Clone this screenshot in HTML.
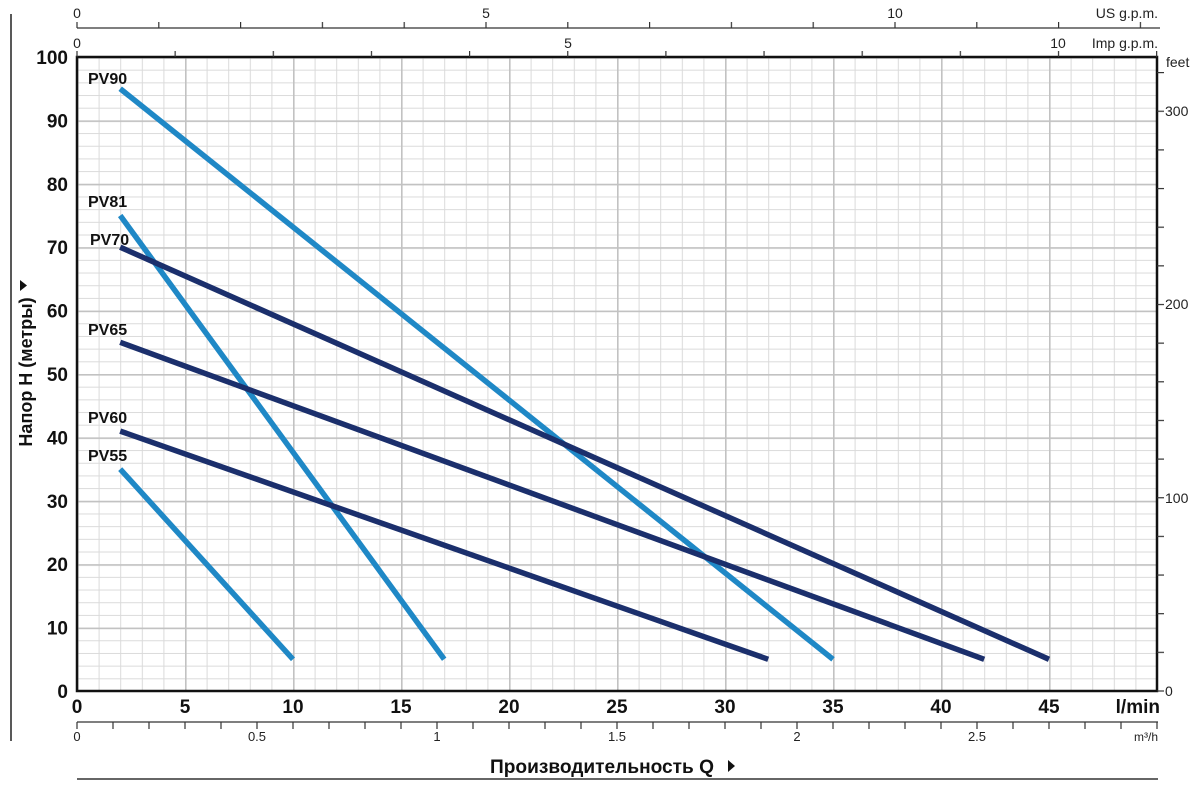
<!DOCTYPE html>
<html><head><meta charset="utf-8"><style>
html,body{margin:0;padding:0;background:#fff;}
svg{display:block;font-family:"Liberation Sans",sans-serif;}
</style></head><body>
<svg width="1200" height="789" viewBox="0 0 1200 789" xmlns="http://www.w3.org/2000/svg">
<defs>
<pattern id="gmin" patternUnits="userSpaceOnUse" x="77" y="57" width="21.6" height="12.68">
<line x1="0.5" y1="0" x2="0.5" y2="12.68" stroke="#dadada" stroke-width="1"/>
<line x1="0" y1="0.5" x2="21.6" y2="0.5" stroke="#dadada" stroke-width="1"/>
</pattern>
<pattern id="gmaj" patternUnits="userSpaceOnUse" x="77" y="57" width="108" height="63.4">
<line x1="0.8" y1="0" x2="0.8" y2="63.4" stroke="#c2c2c2" stroke-width="1.6"/>
<line x1="0" y1="0.8" x2="108" y2="0.8" stroke="#c2c2c2" stroke-width="1.6"/>
</pattern>
<pattern id="tus" patternUnits="userSpaceOnUse" x="76.4" y="0" width="81.8" height="10"><rect x="0" y="0" width="1.2" height="10" fill="#333"/></pattern>
<pattern id="timp" patternUnits="userSpaceOnUse" x="76.4" y="0" width="98.15" height="10"><rect x="0" y="0" width="1.2" height="10" fill="#333"/></pattern>
<pattern id="tm3" patternUnits="userSpaceOnUse" x="76.4" y="0" width="36" height="10"><rect x="0" y="0" width="1.2" height="10" fill="#333"/></pattern>
<pattern id="tft" patternUnits="userSpaceOnUse" x="0" y="690.4" width="10" height="38.65"><rect x="0" y="0" width="10" height="1.2" fill="#333"/></pattern>
</defs>
<rect width="1200" height="789" fill="#fff"/>
<rect x="77" y="57" width="1080" height="634" fill="url(#gmin)"/>
<rect x="77" y="57" width="1080" height="634" fill="url(#gmaj)"/>
<rect x="77" y="57" width="1080" height="634" fill="none" stroke="#111" stroke-width="2.5"/>

<g font-size="19" font-weight="bold" fill="#111" text-anchor="end">
<text x="68" y="698">0</text><text x="68" y="634.6">10</text><text x="68" y="571.2">20</text><text x="68" y="507.8">30</text><text x="68" y="444.4">40</text><text x="68" y="381">50</text><text x="68" y="317.6">60</text><text x="68" y="254.2">70</text><text x="68" y="190.8">80</text><text x="68" y="127.4">90</text><text x="68" y="64">100</text>
</g>
<g font-size="19" font-weight="bold" fill="#111" text-anchor="middle">
<text x="77" y="713">0</text><text x="185" y="713">5</text><text x="293" y="713">10</text><text x="401" y="713">15</text><text x="509" y="713">20</text><text x="617" y="713">25</text><text x="725" y="713">30</text><text x="833" y="713">35</text><text x="941" y="713">40</text><text x="1049" y="713">45</text>
</g>
<text x="1160" y="713" text-anchor="end" font-size="19" font-weight="bold" fill="#111">l/min</text>

<line x1="77" y1="28" x2="1160" y2="28" stroke="#333" stroke-width="1.2"/>
<rect x="76" y="22" width="1082" height="6" fill="url(#tus)"/>
<g font-size="14" fill="#222" text-anchor="middle"><text x="77" y="18">0</text><text x="486" y="18">5</text><text x="895" y="18">10</text>
<text x="77" y="48">0</text><text x="568" y="48">5</text><text x="1058" y="48">10</text></g>
<text x="1158" y="18" text-anchor="end" font-size="14" fill="#222">US g.p.m.</text>
<rect x="76" y="51" width="1084" height="6" fill="url(#timp)"/>
<text x="1158" y="48" text-anchor="end" font-size="14" fill="#222">Imp g.p.m.</text>

<rect x="1157" y="57" width="7" height="635" fill="url(#tft)"/>
<g font-size="14" fill="#222"><text x="1165" y="696">0</text><text x="1165" y="503">100</text><text x="1165" y="309">200</text><text x="1165" y="116">300</text><text x="1166" y="67">feet</text></g>

<line x1="77" y1="722" x2="1158" y2="722" stroke="#333" stroke-width="1.2"/>
<rect x="76" y="722" width="1083" height="7" fill="url(#tm3)"/>
<g font-size="13" fill="#222" text-anchor="middle"><text x="77" y="741">0</text><text x="257" y="741">0.5</text><text x="437" y="741">1</text><text x="617" y="741">1.5</text><text x="797" y="741">2</text><text x="977" y="741">2.5</text></g>
<text x="1158" y="741" text-anchor="end" font-size="12" fill="#222">m³/h</text>
<line x1="77" y1="779" x2="1158" y2="779" stroke="#333" stroke-width="1.5"/>
<text x="490" y="773" font-size="19" font-weight="bold" fill="#111" textLength="224" lengthAdjust="spacingAndGlyphs">Производительность Q</text>
<path d="M728 760 L728 772 L735 766 Z" fill="#111"/>
<line x1="11" y1="14" x2="11" y2="741" stroke="#222" stroke-width="1.5"/>
<text transform="translate(32,372) rotate(-90)" text-anchor="middle" font-size="18" font-weight="bold" fill="#111">Напор H (метры)</text>
<path d="M20 280 L20 291 L27 285.5 Z" fill="#111"/>

<g stroke-width="5.5" stroke-linecap="butt">
<line x1="120.2" y1="88.7" x2="833" y2="659.3" stroke="#1f88c6"/>
<line x1="120.2" y1="215.5" x2="444.2" y2="659.3" stroke="#1f88c6"/>
<line x1="120.2" y1="247.2" x2="1049" y2="659.3" stroke="#1b2f6c"/>
<line x1="120.2" y1="342.3" x2="984.2" y2="659.3" stroke="#1b2f6c"/>
<line x1="120.2" y1="431.1" x2="768.2" y2="659.3" stroke="#1b2f6c"/>
<line x1="120.2" y1="469.1" x2="293" y2="659.3" stroke="#1f88c6"/>
</g>
<g font-size="16" font-weight="bold" fill="#111">
<text x="88" y="84">PV90</text><text x="88" y="207">PV81</text><text x="90" y="245">PV70</text><text x="88" y="335">PV65</text><text x="88" y="423">PV60</text><text x="88" y="461">PV55</text>
</g>
</svg>
</body></html>
